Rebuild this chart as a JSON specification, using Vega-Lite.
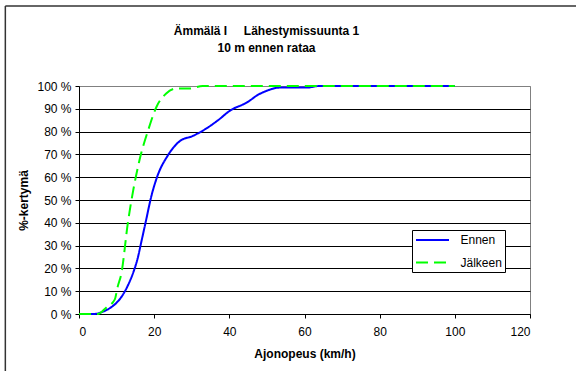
{
  "$schema": "https://vega.github.io/schema/vega-lite/v6.json",
  "width": 451,
  "height": 228,
  "autosize": {"type": "none"},
  "padding": {"left": 79, "top": 86, "right": 46, "bottom": 57},
  "background": "white",
  "title": {
    "text": ["Ämmälä I\u00a0\u00a0\u00a0\u00a0 Lähestymissuunta 1", "10 m ennen rataa"],
    "anchor": "middle",
    "dx": -38,
    "offset": -50,
    "font": "Liberation Sans",
    "fontSize": 12,
    "fontWeight": "bold",
    "color": "black",
    "lineHeight": 17
  },
  "config": {
    "view": {"stroke": "#808080", "strokeWidth": 1},
    "font": "Liberation Sans",
    "axis": {
      "labelFont": "Liberation Sans",
      "labelFontSize": 12,
      "labelColor": "black",
      "titleFont": "Liberation Sans",
      "titleFontSize": 12,
      "titleFontWeight": "bold",
      "titleColor": "black",
      "domainColor": "black",
      "tickColor": "black",
      "tickSize": 4
    }
  },
  "layer": [
    {
      "data": {
        "values": [
          {"speed": 0, "pct": 0, "series": "Ennen"},
          {"speed": 4, "pct": 0, "series": "Ennen"},
          {"speed": 6, "pct": 0.8, "series": "Ennen"},
          {"speed": 8.6, "pct": 3, "series": "Ennen"},
          {"speed": 9.9, "pct": 4.8, "series": "Ennen"},
          {"speed": 11.5, "pct": 8, "series": "Ennen"},
          {"speed": 13, "pct": 12.5, "series": "Ennen"},
          {"speed": 14.5, "pct": 18.5, "series": "Ennen"},
          {"speed": 15.7, "pct": 25, "series": "Ennen"},
          {"speed": 16.5, "pct": 31, "series": "Ennen"},
          {"speed": 17.7, "pct": 40, "series": "Ennen"},
          {"speed": 19.3, "pct": 52, "series": "Ennen"},
          {"speed": 20.8, "pct": 60.2, "series": "Ennen"},
          {"speed": 23.7, "pct": 69.7, "series": "Ennen"},
          {"speed": 26.8, "pct": 75.8, "series": "Ennen"},
          {"speed": 30.3, "pct": 78.1, "series": "Ennen"},
          {"speed": 33.9, "pct": 81.4, "series": "Ennen"},
          {"speed": 37, "pct": 85, "series": "Ennen"},
          {"speed": 40.1, "pct": 89.1, "series": "Ennen"},
          {"speed": 44.9, "pct": 93, "series": "Ennen"},
          {"speed": 47.5, "pct": 96, "series": "Ennen"},
          {"speed": 49.8, "pct": 97.8, "series": "Ennen"},
          {"speed": 53.4, "pct": 99.3, "series": "Ennen"},
          {"speed": 60.5, "pct": 99.3, "series": "Ennen"},
          {"speed": 64, "pct": 100, "series": "Ennen"},
          {"speed": 100, "pct": 100, "series": "Ennen"},
          {"speed": 0, "pct": 0, "series": "Jälkeen"},
          {"speed": 5, "pct": 0, "series": "Jälkeen"},
          {"speed": 7.3, "pct": 2.9, "series": "Jälkeen"},
          {"speed": 9.5, "pct": 6.3, "series": "Jälkeen"},
          {"speed": 10.3, "pct": 12, "series": "Jälkeen"},
          {"speed": 11.3, "pct": 18, "series": "Jälkeen"},
          {"speed": 13, "pct": 40, "series": "Jälkeen"},
          {"speed": 14.4, "pct": 54, "series": "Jälkeen"},
          {"speed": 16.1, "pct": 67.5, "series": "Jälkeen"},
          {"speed": 18.4, "pct": 80.6, "series": "Jälkeen"},
          {"speed": 20.6, "pct": 90.8, "series": "Jälkeen"},
          {"speed": 23.2, "pct": 96.7, "series": "Jälkeen"},
          {"speed": 25.9, "pct": 98.9, "series": "Jälkeen"},
          {"speed": 29.4, "pct": 98.9, "series": "Jälkeen"},
          {"speed": 32.9, "pct": 100, "series": "Jälkeen"},
          {"speed": 100, "pct": 100, "series": "Jälkeen"}
        ]
      },
      "mark": {"type": "line", "interpolate": "monotone", "strokeWidth": 2},
      "encoding": {
        "x": {
          "field": "speed",
          "type": "quantitative",
          "scale": {"domain": [0, 120], "nice": false},
          "axis": {
            "values": [0, 20, 40, 60, 80, 100, 120],
            "grid": false,
            "labelPadding": 8,
            "title": "Ajonopeus (km/h)",
            "titlePadding": 11
          }
        },
        "y": {
          "field": "pct",
          "type": "quantitative",
          "scale": {"domain": [0, 100], "nice": false},
          "axis": {
            "values": [0, 10, 20, 30, 40, 50, 60, 70, 80, 90, 100],
            "labelOverlap": false,
            "labelExpr": "datum.value + ' %'",
            "labelPadding": 4,
            "grid": true,
            "gridColor": {"condition": {"test": "datum.value === 100", "value": "#808080"}, "value": "black"},
            "gridOpacity": 1,
            "title": "%-kertymä",
            "titlePadding": 6
          }
        },
        "color": {
          "field": "series",
          "type": "nominal",
          "scale": {"domain": ["Ennen", "Jälkeen"], "range": ["#0000ff", "#00ff00"]},
          "legend": {
            "title": null,
            "orient": "none",
            "legendX": 333,
            "legendY": 144,
            "strokeColor": "black",
            "fillColor": "white",
            "padding": 3,
            "symbolType": "M-2.75,0H2.75",
            "symbolSize": 144,
            "symbolOffset": 10.5,
            "symbolStrokeWidth": 2,
            "labelFont": "Liberation Sans",
            "labelFontSize": 12,
            "labelColor": "black",
            "labelOffset": 21,
            "rowPadding": 9.5
          }
        },
        "strokeDash": {
          "field": "series",
          "type": "nominal",
          "scale": {"domain": ["Ennen", "Jälkeen"], "range": [[1, 0], [12, 6]]},
          "legend": {
            "title": null,
            "orient": "none",
            "legendX": 333,
            "legendY": 144
          }
        }
      }
    },
    {
      "data": {"values": [{}]},
      "mark": {"type": "rule", "color": "#333333", "strokeWidth": 1.5, "clip": false},
      "encoding": {
        "x": {
          "datum": -19.6,
          "type": "quantitative",
          "axis": {
            "values": [0, 20, 40, 60, 80, 100, 120],
            "grid": false,
            "labelPadding": 8,
            "title": "Ajonopeus (km/h)",
            "titlePadding": 11
          }
        },
        "y": {
          "datum": 135.1,
          "type": "quantitative",
          "axis": {
            "values": [0, 10, 20, 30, 40, 50, 60, 70, 80, 90, 100],
            "labelOverlap": false,
            "labelExpr": "datum.value + ' %'",
            "labelPadding": 4,
            "grid": true,
            "gridColor": {"condition": {"test": "datum.value === 100", "value": "#808080"}, "value": "black"},
            "gridOpacity": 1,
            "title": "%-kertymä",
            "titlePadding": 6
          }
        },
        "y2": {"datum": -26}
      }
    },
    {
      "data": {"values": [{}]},
      "mark": {"type": "rule", "color": "#333333", "strokeWidth": 1.5, "clip": false},
      "encoding": {
        "x": {
          "datum": -19.6,
          "type": "quantitative",
          "axis": {
            "values": [0, 20, 40, 60, 80, 100, 120],
            "grid": false,
            "labelPadding": 8,
            "title": "Ajonopeus (km/h)",
            "titlePadding": 11
          }
        },
        "x2": {"datum": 133},
        "y": {
          "datum": 135.1,
          "type": "quantitative",
          "axis": {
            "values": [0, 10, 20, 30, 40, 50, 60, 70, 80, 90, 100],
            "labelOverlap": false,
            "labelExpr": "datum.value + ' %'",
            "labelPadding": 4,
            "grid": true,
            "gridColor": {"condition": {"test": "datum.value === 100", "value": "#808080"}, "value": "black"},
            "gridOpacity": 1,
            "title": "%-kertymä",
            "titlePadding": 6
          }
        }
      }
    }
  ]
}
